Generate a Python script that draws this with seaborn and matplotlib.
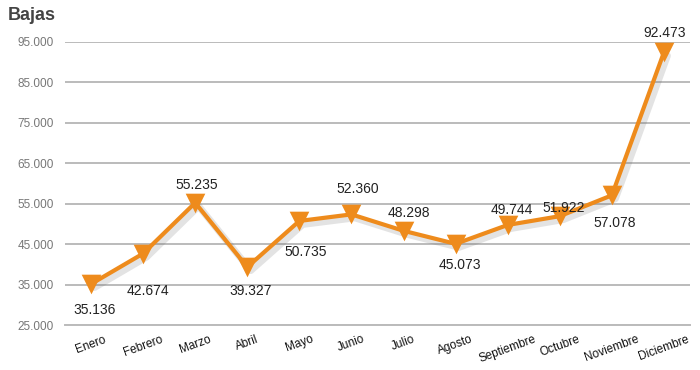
import matplotlib
matplotlib.use("Agg")
import matplotlib.pyplot as plt
import matplotlib.patheffects as pe
import numpy as np
import pandas as pd
import seaborn as sns

months = ["Enero", "Febrero", "Marzo", "Abril", "Mayo", "Junio", "Julio",
          "Agosto", "Septiembre", "Octubre", "Noviembre", "Diciembre"]
bajas = [35136, 42674, 55235, 39327, 50735, 52360, 48298, 45073, 49744, 51922, 57078, 92473]
y_ticks = [25000, 35000, 45000, 55000, 65000, 75000, 85000, 95000]

# label offsets in pixels (dx, dy) relative to point
offsets = [(4, -26), (5, -37), (2, 18), (3, -24), (6, -31), (6, 25),
           (5, 18), (4, -21), (4, 15), (4, 8), (3, -28), (1, 19)]

sns.set_style("white")
plt.rcParams['font.family'] = ['Liberation Sans', 'DejaVu Sans']

fig = plt.figure(figsize=(7, 3.7), dpi=100)
ax = fig.add_axes([65/700, 1-325/370, 625/700, (325-42)/370])

df = pd.DataFrame({"x": np.arange(len(months)), "v": bajas})
orange = "#EE8B1C"
shadow = [pe.SimpleLineShadow(offset=(2.5, -2.5), shadow_color="#666666", alpha=0.18, linewidth=5),
          pe.Normal()]
sns.lineplot(data=df, x="x", y="v", ax=ax, color=orange, linewidth=3,
             clip_on=False, zorder=4, path_effects=shadow)
sns.scatterplot(data=df, x="x", y="v", ax=ax, color=orange, marker="v", s=200,
                edgecolor=orange, linewidth=0, clip_on=False, zorder=5, legend=False)

for i, v in enumerate(bajas):
    dx, dy = offsets[i]
    s = f"{v:,}".replace(",", ".")
    ax.annotate(s, (i, v), xytext=(dx * 0.72, dy * 0.72), textcoords="offset points",
                ha="center", va="center", fontsize=10, color="#222222", zorder=6)

ax.set_xlim(-0.5, 11.5)
ax.set_ylim(25000, 95000)
ax.set_yticks(y_ticks)
ax.set_yticklabels([f"{t:,}".replace(",", ".") for t in y_ticks], fontsize=8.5, color="#777777")
ax.set_xticks(np.arange(len(months)))
ax.set_xticklabels(months, rotation=20, fontsize=8.5, color="#111111", ha="center")
ax.set_xticks(np.arange(-0.5, 12, 1), minor=True)
ax.tick_params(axis="x", which="major", length=0, pad=6)
ax.tick_params(axis="x", which="minor", length=4, color="#aaaaaa", width=1.2, direction="out")
ax.tick_params(axis="y", length=0, pad=8)
ax.grid(axis="y", color="#bbbbbb", linewidth=1.4)
ax.set_axisbelow(True)
for s in ["left", "right", "top"]:
    ax.spines[s].set_visible(False)
ax.spines["bottom"].set_color("#bbbbbb")
ax.spines["bottom"].set_linewidth(1.4)
ax.set_xlabel("")
ax.set_ylabel("")

fig.text(8/700, 1-16/370, "Bajas", fontsize=13, fontweight="bold", color="#444444",
         ha="left", va="center")

fig.savefig("out.png", dpi=100)
